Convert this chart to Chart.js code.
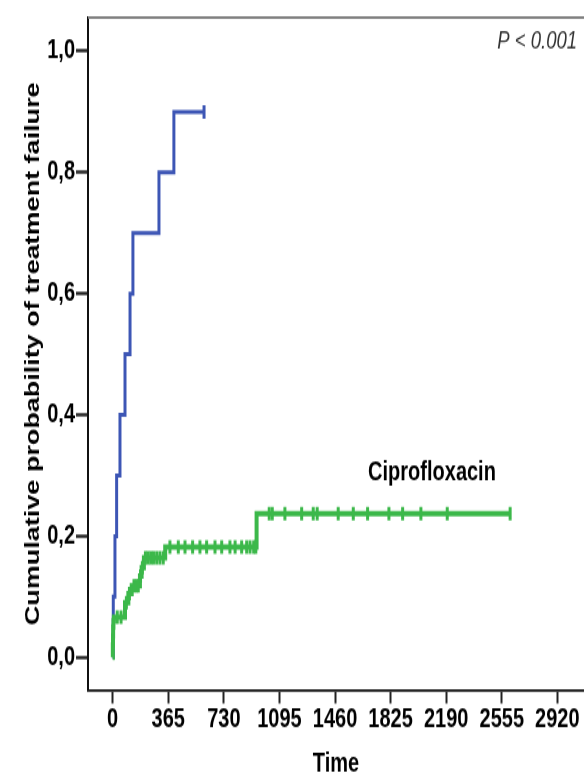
<!DOCTYPE html>
<html>
<head>
<meta charset="utf-8">
<script src="https://cdn.jsdelivr.net/npm/chart.js@4.4.1/dist/chart.umd.min.js"></script>
<style>
  html, body { margin: 0; padding: 0; background: #fff; overflow: hidden; }
</style>
</head>
<body>
<!-- the reference picture is stretched vertically, so draw short and scale with css -->
<canvas id="chart" width="584" height="576" style="display:block;width:584px;height:777px;"></canvas>
<script>
const timeTicks = [0, 365, 730, 1095, 1460, 1825, 2190, 2555, 2920];
const probTicks = [0, 0.2, 0.4, 0.6, 0.8, 1.0];

// days and cumulative probability after each step
const otherDays = [0, 4, 15, 26, 48, 81, 114, 133, 304, 402, 600];
const otherProb = [0, 0.1, 0.2, 0.3, 0.4, 0.5, 0.6, 0.7, 0.8, 0.9, 0.9];
const otherCensored = [600];

const ciproDays = [0, 1, 2, 3, 5, 8, 81, 103, 125, 179, 190, 205, 345, 945, 2610];
const ciproProb = [0, 0.02, 0.035, 0.05, 0.06, 0.066, 0.09, 0.105, 0.118, 0.134, 0.148, 0.164, 0.182, 0.237, 0.237];
const ciproCensored = [30, 55, 90, 110, 140, 155, 168, 183, 195, 215, 232, 250, 268, 289, 310, 332,
  376, 431, 475, 525, 573, 617, 672, 716, 770, 804, 847, 880, 902, 926, 940,
  1028, 1048, 1131, 1241, 1317, 1343, 1481, 1580, 1674, 1814, 1904, 2024, 2197, 2610];

const ciproLabel = 'Ciprofloxacin';
const pLabel = 'P < 0.001';
const xTitle = 'Time';
const yTitle = 'Cumulative probability of treatment failure';

const blue = '#3d56b5';
const green = '#3cb84a';
const fontFamily = "'Liberation Sans', Arial, sans-serif";

function points(days, probs) {
  return days.map((d, i) => ({x: d, y: probs[i]}));
}

// value of the step curve at day t
function valueAt(days, probs, t) {
  let v = probs[0];
  for (let i = 0; i < days.length; i++) {
    if (days[i] <= t) v = probs[i];
  }
  return v;
}

function censorPoints(days, probs, censored) {
  return censored.map(t => ({x: t, y: valueAt(days, probs, t)}));
}

const textPlugin = {
  id: 'texts',
  afterDraw(chart) {
    const ctx = chart.ctx;
    const area = chart.chartArea;
    ctx.save();
    // top frame line
    ctx.strokeStyle = '#808080';
    ctx.lineWidth = 2.2;
    ctx.beginPath();
    ctx.moveTo(area.left, area.top);
    ctx.lineTo(chart.width, area.top);
    ctx.stroke();

    ctx.fillStyle = '#000';
    ctx.font = 'bold 20px ' + fontFamily;
    ctx.textAlign = 'center';
    ctx.textBaseline = 'middle';
    ctx.fillText(ciproLabel, 432, 350);

    ctx.fillStyle = '#333';
    ctx.font = 'italic 18.5px ' + fontFamily;
    ctx.textAlign = 'right';
    ctx.fillText(pLabel, 577, 31);
    ctx.restore();
  }
};

const ctx = document.getElementById('chart');

new Chart(ctx, {
  type: 'line',
  data: {
    datasets: [
      {
        data: points(ciproDays, ciproProb),
        borderColor: green,
        borderWidth: 4,
        stepped: true,
        pointRadius: 0,
        order: 1
      },
      {
        data: censorPoints(ciproDays, ciproProb, ciproCensored),
        showLine: false,
        pointStyle: 'line',
        rotation: 90,
        pointRadius: 5,
        pointBorderWidth: 3,
        pointBorderColor: green,
        order: 0
      },
      {
        data: points(otherDays, otherProb),
        borderColor: blue,
        borderWidth: 3,
        stepped: true,
        pointRadius: 0,
        order: 3
      },
      {
        data: censorPoints(otherDays, otherProb, otherCensored),
        showLine: false,
        pointStyle: 'line',
        rotation: 90,
        pointRadius: 5,
        pointBorderWidth: 3,
        pointBorderColor: blue,
        order: 2
      }
    ]
  },
  options: {
    responsive: false,
    animation: false,
    layout: { autoPadding: false, padding: { top: 8.2, left: 0, right: 0, bottom: 0 } },
    plugins: {
      legend: { display: false },
      tooltip: { enabled: false }
    },
    scales: {
      x: {
        type: 'linear',
        min: -162,
        max: 3095,
        afterBuildTicks: s => { s.ticks = timeTicks.map(v => ({value: v})); },
        afterFit: s => { s.height = 64.5; s.paddingLeft = 0; s.paddingRight = 0; },
        grid: { drawOnChartArea: false, drawTicks: true, tickLength: 10, tickWidth: 2, tickColor: '#222' },
        border: { display: true, color: '#111', width: 1.8 },
        ticks: {
          padding: 0,
          color: '#000',
          font: { family: fontFamily, size: 20, weight: 'bold' },
          maxRotation: 0,
          autoSkip: false,
          callback: v => String(v)
        },
        title: {
          display: true,
          text: xTitle,
          color: '#000',
          font: { family: fontFamily, size: 20, weight: 'bold' },
          padding: { top: 0, bottom: -2.5 }
        }
      },
      y: {
        min: -0.054,
        max: 1.0556,
        afterBuildTicks: s => { s.ticks = probTicks.map(v => ({value: v})); },
        afterFit: s => { s.width = 88; },
        grid: { drawOnChartArea: false, drawTicks: true, tickLength: 12, tickWidth: 2.4, tickColor: '#222' },
        border: { display: true, color: '#111', width: 2 },
        ticks: {
          padding: 1,
          color: '#000',
          font: { family: fontFamily, size: 20, weight: 'bold' },
          callback: v => v.toFixed(1).replace('.', ',')
        },
        title: {
          display: true,
          text: yTitle,
          color: '#000',
          font: { family: fontFamily, size: 20, weight: 'bold' },
          padding: { top: 21, bottom: 0 }
        }
      }
    }
  },
  plugins: [textPlugin]
});
</script>
</body>
</html>
